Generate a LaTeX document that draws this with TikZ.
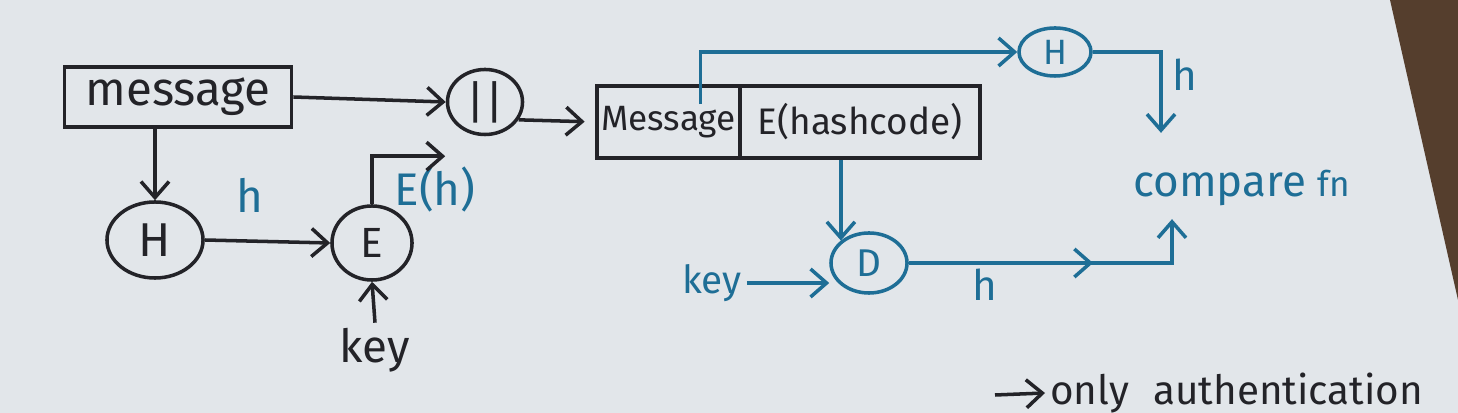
\documentclass[tikz,border=0pt]{standalone}
\usepackage{fontspec}
\setmainfont{Fira Sans}
\usetikzlibrary{arrows.meta,shapes.geometric,calc,decorations.markings}
\definecolor{paper}{RGB}{226,230,234}
\definecolor{inkblack}{RGB}{35,35,40}
\definecolor{inkblue}{RGB}{30,110,150}
\definecolor{desk}{RGB}{85,62,45}
\begin{document}
\begin{tikzpicture}[x=0.01cm,y=-0.01cm,line width=1pt,
  >={Straight Barb[length=1.6mm,width=2.8mm]},
  blk/.style={draw=inkblack,text=inkblack},
  blu/.style={draw=inkblue,text=inkblue},
  oval/.style={ellipse,inner sep=0pt},
  box/.style={rectangle,inner sep=0pt},
  lab/.style={inner sep=1pt},
  midarrow/.style={postaction={decorate},decoration={markings,mark=at position #1 with {\arrow{>}}}}]
\fill[paper] (0,0) rectangle (1458,413);
\useasboundingbox (0,0) rectangle (1458,413);
\fill[desk] (1390,0) -- (1458,0) -- (1458,300) -- cycle;

% sender side
\node[box,blk,minimum width=2.27cm,minimum height=0.6cm,font=\fontsize{13.5}{16}\selectfont] (msg) at (178,97) {message};
\node[oval,blk,minimum width=0.75cm,minimum height=0.65cm,font=\fontsize{13}{15}\selectfont] (par) at (485,102) {||};
\node[oval,blk,minimum width=0.96cm,minimum height=0.76cm,font=\fontsize{13.5}{16}\selectfont] (H1) at (155,240) {H};
\node[oval,blk,minimum width=0.8cm,minimum height=0.74cm,font=\fontsize{12}{14}\selectfont] (E1) at (372,243) {E};
\node[lab,text=inkblack,font=\fontsize{13}{15}\selectfont] (key1) at (375,350) {key};
\node[lab,text=inkblue,font=\fontsize{13}{15}\selectfont] (h1) at (250,195) {h};
\node[lab,text=inkblue,font=\fontsize{13}{15}\selectfont] (Eh) at (435,190) {E(h)};

% transmitted block
\node[box,blk,minimum width=1.43cm,minimum height=0.72cm,font=\fontsize{10}{12}\selectfont] (msg2) at (668.5,122) {Message};
\node[box,blk,minimum width=2.4cm,minimum height=0.72cm,font=\fontsize{10.5}{12}\selectfont] (hc) at (860,122) {E(hashcode)};

% receiver side
\node[oval,blu,minimum width=0.72cm,minimum height=0.48cm,font=\fontsize{10}{12}\selectfont] (H2) at (1055,52) {H};
\node[oval,blu,minimum width=0.76cm,minimum height=0.6cm,font=\fontsize{11}{13}\selectfont] (D) at (869,263) {D};
\node[lab,text=inkblue,font=\fontsize{11}{13}\selectfont] (key2) at (712,283) {key};
\node[lab,anchor=west,text=inkblue,font=\fontsize{12.5}{15}\selectfont] (cmp) at (1128,188) {compare {\fontsize{10}{12}\selectfont fn}};
\node[lab,text=inkblue,font=\fontsize{12}{14}\selectfont] (h2) at (1185,75) {h};
\node[lab,text=inkblue,font=\fontsize{12}{14}\selectfont] (h3) at (985,285) {h};

% bottom fragment
\node[lab,anchor=west,text=inkblack,font=\fontsize{11.5}{14}\selectfont] (only) at (1045,393) {only\hspace{0.6em}authentication};
\coordinate (oa) at (995,395);

% black connectors
\draw[->,inkblack] (msg.east) -- (par.west);
\draw[->,inkblack] (H1.north |- msg.south) -- (H1.north);
\draw[->,inkblack] (H1.east) -- (E1.west);
\draw[->,inkblack] (E1.north) |- ($(par.south west)+(-12,30)$);
\draw[->,inkblack] (key1.north) -- (E1.south);
\draw[->,inkblack,shorten >=3pt] (par.-28) -- (msg2.west);
\draw[->,inkblack] (oa) -- (only.west);

% blue connectors
\draw[->,inkblue] ($(msg2.north)+(32,20)$) |- (H2.west);
\draw[->,inkblue] (H2.east) -| ($(cmp.north west)+(33,-32)$);
\draw[->,inkblue] (D.north west |- hc.south) -- (D.north west);
\draw[->,inkblue] (key2.east) -- (D.west |- key2.east);
\draw[->,inkblue,midarrow=0.6] (D.east) -| ($(cmp.south west)+(44,8)$);
\end{tikzpicture}
\end{document}
